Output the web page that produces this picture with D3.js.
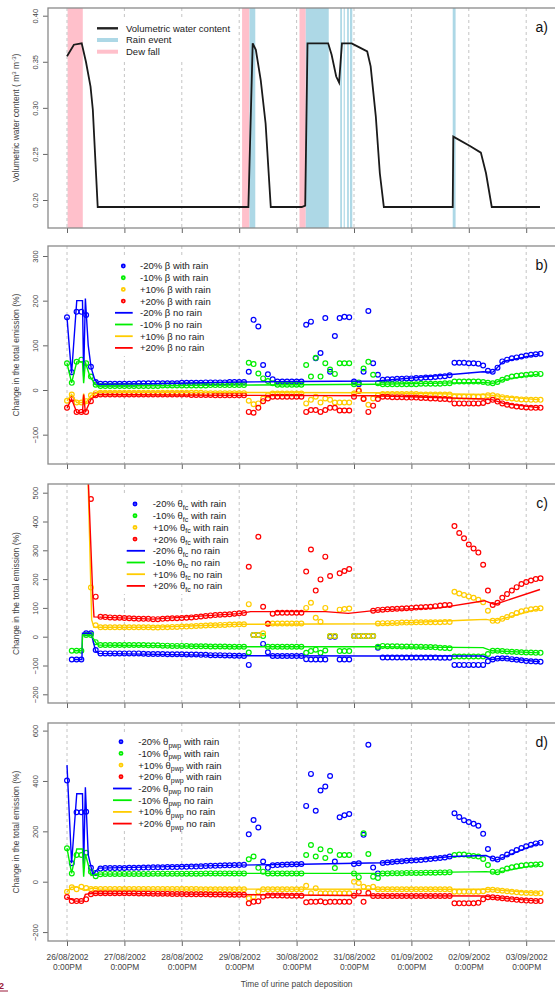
<!DOCTYPE html>
<html>
<head>
<meta charset="utf-8">
<script src="https://cdn.jsdelivr.net/npm/d3@7"></script>
<style>
body{margin:0;background:#fff}
svg{display:block;font-family:"Liberation Sans",Arial,sans-serif}
</style>
</head>
<body>
<svg id="chart" width="555" height="992"></svg>
<script>
// time axis = days since 26/08/2002 12:00
var dayLabels = ["26/08/2002","27/08/2002","28/08/2002","29/08/2002","30/08/2002","31/08/2002","01/09/2002","02/09/2002","03/09/2002"];

//a) soil water
var vwcTime = [0,0.12,0.256,0.33,0.41,0.45,0.535,3.16,3.235,3.29,3.375,3.46,3.55,4.09,4.15,4.19,4.55,4.61,4.69,4.74,4.79,4.96,5.06,5.23,5.29,5.38,5.45,5.52,6.72,6.73,7.02,7.21,7.30,7.40,8.24];
var vwcValue = [0.356,0.3685,0.370,0.350,0.323,0.298,0.1924,0.1924,0.370,0.363,0.330,0.283,0.1924,0.1924,0.194,0.370,0.370,0.3576,0.334,0.3275,0.370,0.370,0.3667,0.3612,0.345,0.2906,0.229,0.1924,0.1924,0.2688,0.2587,0.2514,0.229,0.1924,0.1924];
var dewFall = [[0.01,0.275],[3.05,3.18],[4.05,4.16]];
var rainEvent = [[3.18,3.28],[4.16,4.56],[4.76,4.79],[4.82,4.84],[4.88,4.91],[4.93,4.97],[6.72,6.77]];

// with-rain runs are read every 2 h (index i -> day i/12)
var step = 1/12;

//b) beta
var bBlueRain = [163,40,175,175,168,52,18,14,14,14,14,14,
14,14,14,15,15,15,15,15,15,15,15,15,
16,16,16,16,16,17,17,17,17,17,18,18,
18,18,41,157,142,56,35,24,19,19,19,19,
19,19,146,153,71,83,161,41,121,161,164,163,
19,13,41,177,60,34,23,24,24,25,25,26,
26,27,27,28,28,29,30,31,33,61,61,61,
60,60,59,55,43,41,50,64,68,71,73,75,
77,79,80,81];
var bGreenRain = [60,16,63,68,60,30,12,9,9,9,9,9,
9,9,9,9,9,9,9,9,10,10,10,10,
10,10,10,10,10,10,11,11,11,11,11,11,
11,11,61,58,37,26,20,15,12,12,12,12,
12,12,56,30,72,30,60,46,36,60,60,60,
13,17,48,63,34,15,13,13,13,13,13,13,
13,13,14,14,14,14,14,15,15,19,19,19,
19,19,19,18,16,15,18,23,27,30,32,33,
34,35,36,36];
var bYellowRain = [-24,-10,-28,-28,-25,-12,-7,-6,-6,-6,-6,-6,
-6,-6,-6,-6,-6,-6,-6,-6,-6,-6,-6,-6,
-6,-6,-6,-6,-6,-7,-7,-7,-7,-7,-7,-7,
-7,-7,-24,-32,-30,-19,-12,-8,-8,-8,-8,-8,
-8,-8,-30,-22,-15,-28,-19,-22,-28,-28,-28,-28,
-8,0,-19,-33,-19,-12,-9,-9,-9,-9,-9,-9,
-9,-9,-10,-10,-10,-10,-10,-10,-10,-15,-15,-15,
-15,-15,-15,-14,-12,-12,-14,-16,-18,-19,-20,-21,
-21,-22,-22,-22];
var bRedRain = [-40,-20,-49,-49,-49,-25,-12,-10,-10,-10,-10,-10,
-10,-10,-10,-10,-10,-10,-10,-10,-10,-10,-10,-10,
-10,-10,-11,-11,-11,-11,-11,-12,-12,-12,-12,-12,
-12,-12,-49,-51,-40,-25,-19,-15,-15,-15,-15,-15,
-15,-15,-49,-45,-45,-49,-45,-40,-40,-46,-46,-46,
-15,-2,-20,-49,-35,-20,-15,-15,-16,-16,-16,-17,
-17,-17,-18,-18,-19,-19,-20,-20,-21,-30,-30,-30,
-30,-30,-30,-29,-25,-22,-26,-30,-33,-35,-37,-38,
-39,-40,-40,-40];
var bBlueLine = [[0,163],[0.04,97],[0.08,37],[0.17,200],[0.27,200],[0.29,30],[0.32,205],[0.37,100],[0.42,50],[0.48,25],[0.54,13],[1.5,14],[3,18],[4,19],[5.4,20],[7.25,41],[7.42,40],[7.6,64],[8.24,81]];
var bGreenLine = [[0,60],[0.08,16],[0.17,63],[0.27,63],[0.29,15],[0.32,62],[0.4,30],[0.5,12],[0.55,9],[3,11],[5.4,13],[7.25,17],[7.42,15],[7.6,23],[8.24,36]];
var bYellowLine = [[0,-24],[0.08,-10],[0.17,-28],[0.27,-28],[0.29,-8],[0.32,-30],[0.42,-12],[0.55,-5],[5.4,-6],[7.25,-10],[7.42,-12],[7.6,-15],[8.24,-22]];
var bRedLine = [[0,-40],[0.08,-20],[0.17,-50],[0.27,-50],[0.29,-10],[0.32,-50],[0.42,-20],[0.55,-10],[3,-12],[5.4,-13],[7.25,-20],[7.42,-22],[7.6,-30],[8.24,-40]];

//c) theta fc
var cBlueRain = [null,-79,-79,-79,12,12,-46,-58,-58,-58,-58,-58,
-58,-58,-58,-58,-59,-60,-60,-60,-60,-61,-61,-61,
-61,-62,-62,-62,-63,-63,-64,-64,-64,-65,-65,-66,
-66,-67,-98,6,6,-25,-54,-67,-67,-67,-67,-67,
-67,-67,-78,-79,-79,-79,-79,0,0,-79,-79,-79,
2,2,2,2,2,-38,-72,-72,-72,-72,-72,-72,
-72,-72,-72,-72,-72,-72,-73,-73,-73,-98,-98,-98,
-98,-98,-98,-98,-85,-79,-76,-75,-76,-78,-80,-82,
-84,-85,-86,-87];
var cGreenRain = [null,-49,-49,-49,6,6,-19,-29,-29,-29,-29,-29,
-29,-29,-29,-29,-29,-30,-30,-30,-31,-31,-32,-32,
-32,-32,-33,-33,-33,-33,-34,-34,-34,-34,-35,-35,
-35,-35,-55,6,6,2,-35,-35,-35,-35,-35,-35,
-35,-35,-56,-50,-45,-56,-48,2,2,-50,-50,-50,
2,2,2,2,2,-35,-32,-33,-33,-33,-34,-34,
-34,-35,-35,-36,-36,-37,-38,-39,-40,-69,-69,-69,
-69,-69,-69,-69,-60,-49,-49,-50,-51,-52,-53,-54,
-55,-55,-56,-56];
var cYellowRain = [null,null,null,null,null,171,40,33,33,33,33,33,
33,33,33,33,33,33,32,32,33,33,34,34,
35,35,36,37,38,39,40,40,41,41,42,42,
43,43,113,6,6,12,46,46,46,46,46,46,
46,46,100,118,66,52,100,2,2,94,96,98,
2,2,2,2,2,46,47,47,48,48,49,49,
49,50,50,50,50,50,50,51,51,156,150,145,
140,135,128,120,90,55,55,62,68,75,82,88,
92,95,97,99];
var cRedRain = [null,null,null,null,null,478,139,69,68,67,66,66,
65,64,63,62,62,62,61,61,62,63,64,64,
65,66,67,68,70,72,74,75,76,77,78,80,
81,82,243,null,347,104,45,80,83,83,83,83,
83,83,226,303,160,199,278,211,null,220,228,235,
null,null,null,null,90,93,94,95,96,97,98,99,
100,101,102,103,104,106,108,110,110,384,360,342,
320,306,292,250,160,110,118,135,148,160,172,183,
190,195,200,203];
var cBlueLine = [[0.12,-79],[0.26,-79],[0.27,12],[0.42,12],[0.5,-50],[0.55,-58],[3,-66],[5.4,-67],[7.25,-67],[7.4,-79],[7.6,-75],[8.24,-87]];
var cGreenLine = [[0.12,-49],[0.26,-49],[0.27,6],[0.42,6],[0.5,-20],[0.55,-29],[3,-35],[5.4,-35],[7.25,-38],[7.4,-49],[8.24,-56]];
var cYellowLine = [[0.36,600],[0.43,58],[0.47,33],[1.5,33],[3,43],[5.5,45],[7,58],[7.3,60],[7.45,55],[8.24,98]];
var cRedLine = [[0.36,600],[0.45,139],[0.47,69],[1.5,61],[3,80],[3.2,87],[4.5,87],[4.9,81],[5.5,94],[6.5,100],[7.27,125],[7.45,112],[8.24,164]];

//d) theta pwp
var dBlueRain = [402,73,276,276,278,55,35,52,54,54,54,54,
54,55,55,55,56,56,57,57,57,58,58,58,
59,59,60,60,61,62,63,63,64,65,65,66,
66,67,188,245,215,80,55,65,66,67,68,69,
69,70,301,428,282,362,378,420,80,256,264,269,
70,73,186,544,56,33,74,76,78,80,81,83,
84,85,86,88,90,92,94,96,100,272,257,244,
237,230,222,190,130,92,88,98,108,117,126,134,
141,147,152,155];
var dGreenRain = [133,33,106,106,115,40,22,30,31,31,31,31,
31,31,31,31,31,31,32,32,32,32,32,32,
32,32,32,32,32,33,33,33,33,33,33,33,
33,33,89,100,55,40,33,33,33,33,33,33,
33,33,106,146,100,129,94,123,54,106,106,106,
33,18,192,110,20,15,33,33,34,34,34,35,
35,35,35,36,36,36,37,37,38,106,108,108,
104,102,100,90,66,40,38,45,52,57,61,64,
66,67,68,69];
var dYellowRain = [-40,-22,-30,-20,-25,-29,-29,-29,-29,-29,-29,-29,
-29,-29,-29,-29,-29,-29,-29,-29,-29,-29,-29,-29,
-29,-29,-29,-29,-30,-30,-30,-30,-30,-30,-30,-30,
-30,-30,-66,-60,-40,-30,-30,-30,-30,-30,-30,-30,
-30,-30,-16,-46,-26,-46,-46,-46,-46,-46,-46,-46,
0,-5,-20,-25,-20,-30,-30,-30,-30,-30,-30,-30,
-30,-30,-30,-30,-30,-30,-30,-30,-30,-40,-40,-40,
-40,-40,-40,-38,-32,-32,-34,-36,-38,-40,-42,-44,
-45,-45,-46,-46];
var dRedRain = [-61,-77,-77,-77,-70,-50,-46,-46,-46,-46,-46,-46,
-46,-46,-46,-47,-47,-47,-48,-48,-48,-48,-49,-49,
-49,-50,-50,-50,-50,-50,-51,-51,-51,-51,-52,-52,
-52,-52,-86,-80,-78,-60,-55,-55,-55,-55,-56,-56,
-56,-56,-82,-80,-80,-78,-82,-80,-80,-80,-80,-80,
-56,-40,-80,-45,-57,-57,-57,-57,-57,-57,-57,-57,
-57,-57,-57,-57,-57,-57,-57,-57,-57,-86,-86,-86,
-86,-86,-84,-70,-62,-62,-64,-66,-68,-70,-72,-74,
-75,-76,-77,-77];
var dBlueLine = [[0,463],[0.08,73],[0.17,349],[0.27,349],[0.29,55],[0.32,375],[0.37,106],[0.45,28],[0.55,54],[3,66],[4.1,69],[5.5,75],[6.7,100],[7.3,104],[7.48,86],[8.24,155]];
var dGreenLine = [[0,133],[0.08,33],[0.17,130],[0.27,130],[0.29,20],[0.32,110],[0.42,25],[0.55,30],[3,33],[5.5,33],[6.7,38],[7.3,40],[7.48,37],[8.24,69]];
var dYellowLine = [[0,-40],[0.08,-22],[0.17,-20],[0.3,-35],[0.45,-25],[0.55,-29],[5.5,-30],[7.3,-30],[7.45,-32],[8.24,-46]];
var dRedLine = [[0,-61],[0.14,-77],[0.28,-77],[0.32,-50],[0.45,-46],[5.5,-56],[7.3,-57],[7.4,-62],[8.24,-77]];

var colBlue = "#0000ff", colGreen = "#00ee00", colYellow = "#ffcc00", colRed = "#ff0000";
var font = '"Liberation Sans",Arial,sans-serif';

var svg = d3.select("#chart");
var plotLeft = 48, plotRight = 559;
var x = d3.scaleLinear().domain([0, 8]).range([67, 526.2]);

function frame(top, bottom, y, tickVals, fmt, title, label)
{
    var clipId = "clip" + top;
    svg.append("clipPath").attr("id", clipId)
        .append("rect").attr("x", plotLeft).attr("y", top)
        .attr("width", plotRight - plotLeft).attr("height", bottom - top);
    var g = svg.append("g");
    var data = svg.append("g").attr("clip-path", "url(#" + clipId + ")");

    //grid
    g.selectAll("line.grid").data(d3.range(0, 9)).enter().append("line")
        .attr("x1", d => x(d)).attr("x2", d => x(d))
        .attr("y1", top).attr("y2", bottom)
        .attr("stroke", "#bdbdbd").attr("stroke-width", 0.9)
        .attr("stroke-dasharray", "3,3");

    //y axis
    var ay = svg.append("g").attr("transform", "translate(" + plotLeft + ",0)")
        .call(d3.axisLeft(y).tickValues(tickVals).tickSize(5).tickFormat(fmt));
    ay.select(".domain").remove();
    ay.selectAll("line").attr("stroke", "#666");
    ay.selectAll("text")
        .attr("transform", "rotate(-90)").attr("x", 0).attr("y", -10).attr("dy", 0)
        .attr("text-anchor", "middle").attr("fill", "#444")
        .style("font-size", "7.5px").style("font-family", font);

    //x ticks
    var ax = svg.append("g").attr("transform", "translate(0," + bottom + ")")
        .call(d3.axisBottom(x).tickValues(d3.range(0, 9)).tickSize(5).tickFormat(""));
    ax.select(".domain").remove();
    ax.selectAll("line").attr("stroke", "#666");

    //title
    var t = svg.append("text")
        .attr("transform", "translate(19," + ((top + bottom) / 2) + ") rotate(-90)")
        .attr("text-anchor", "middle").attr("fill", "#444")
        .style("font-size", "8.5px");
    title(t);

    svg.append("text").attr("x", 548).attr("y", top + 24)
        .attr("text-anchor", "end").attr("fill", "#111")
        .style("font-size", "14px").text(label);

    return {g: g, data: data, top: top, bottom: bottom, ax: ax};
}

function box(p)
{
    svg.append("rect").attr("x", plotLeft).attr("y", p.top)
        .attr("width", plotRight - plotLeft).attr("height", p.bottom - p.top)
        .attr("fill", "none").attr("stroke", "#8a8a8a").attr("stroke-width", 1.3);
}

function rainPoints(p, y, values, color)
{
    var pts = values.map((v, i) => [i * step, v]).filter(d => d[1] !== null);
    p.data.append("g").selectAll("circle").data(pts).enter().append("circle")
        .attr("cx", d => x(d[0])).attr("cy", d => y(d[1])).attr("r", 2.4)
        .attr("fill", "none").attr("stroke", color).attr("stroke-width", 1.2);
}

function noRainLine(p, y, pts, color)
{
    var line = d3.line().x(d => x(d[0])).y(d => y(d[1]));
    p.data.append("path").datum(pts).attr("d", line)
        .attr("fill", "none").attr("stroke", color).attr("stroke-width", 1.4);
}

function legend(items, mx, lx0, lx1, tx, y0, boxRect)
{
    var lg = svg.append("g");
    lg.append("rect").attr("x", boxRect[0]).attr("y", boxRect[1])
        .attr("width", boxRect[2]).attr("height", boxRect[3]).attr("fill", "#fff");
    items.forEach((it, k) =>
    {
        var yy = y0 + k * 11.7;
        if (it.type == "point")
        {
            lg.append("circle").attr("cx", mx).attr("cy", yy).attr("r", 1.5)
                .attr("fill", "none").attr("stroke", it.color).attr("stroke-width", 1.9);
        }
        else
        {
            lg.append("line").attr("x1", lx0).attr("x2", lx1).attr("y1", yy).attr("y2", yy)
                .attr("stroke", it.color).attr("stroke-width", it.width || 1.8);
        }
        var t = lg.append("text").attr("x", tx).attr("y", yy + 3.4)
            .attr("fill", "#222").style("font-size", "9.5px");
        t.append("tspan").text(it.pre);
        if (it.sub)
        {
            t.append("tspan").attr("dy", 2.5).style("font-size", "7px").text(it.sub);
            t.append("tspan").attr("dy", -2.5).text(it.post);
        }
    });
}

function changeItems(sym, sub)
{
    var pcts = ["-20%", "-10%", "+10%", "+20%"];
    var cols = [colBlue, colGreen, colYellow, colRed];
    var out = [];
    ["with rain", "no rain"].forEach((kind, j) =>
    {
        pcts.forEach((pc, i) =>
        {
            out.push({type: j == 0 ? "point" : "line", color: cols[i],
                pre: sub ? pc + " " + sym : pc + " " + sym + " " + kind,
                sub: sub, post: " " + kind});
        });
    });
    return out;
}

function emissionTitle(t) { t.text("Change in the total emission (%)"); }

//---------- a)
var yA = d3.scaleLinear().domain([0.2, 0.4]).range([200, 15.7]);
var pa = frame(8, 228, yA, [0.20, 0.25, 0.30, 0.35, 0.40], d3.format(".2f"), t =>
{
    t.append("tspan").text("Volumetric water content ( m");
    t.append("tspan").attr("dy", -3).style("font-size", "6px").text("3");
    t.append("tspan").attr("dy", 3).text(" m");
    t.append("tspan").attr("dy", -3).style("font-size", "6px").text("-3");
    t.append("tspan").attr("dy", 3).text(")");
}, "a)");
pa.g.lower();
var shade = svg.insert("g", ":first-child");
shade.selectAll("rect.dew").data(dewFall).enter().append("rect")
    .attr("x", d => x(d[0])).attr("width", d => x(d[1]) - x(d[0]))
    .attr("y", 8).attr("height", 220).attr("fill", "#ffc0cb");
shade.selectAll("rect.rain").data(rainEvent).enter().append("rect")
    .attr("x", d => x(d[0])).attr("width", d => x(d[1]) - x(d[0]))
    .attr("y", 8).attr("height", 220).attr("fill", "#add8e6");
var vwcLine = d3.line().x((d, i) => x(vwcTime[i])).y(d => yA(d));
pa.data.append("path").datum(vwcValue).attr("d", vwcLine)
    .attr("fill", "none").attr("stroke", "#1a1a1a").attr("stroke-width", 1.8);
legend([
    {type: "line", color: "#222", width: 2.4, pre: "Volumetric water content"},
    {type: "line", color: "#add8e6", width: 4, pre: "Rain event"},
    {type: "line", color: "#ffc0cb", width: 4, pre: "Dew fall"}
], 0, 97, 118, 126, 28.3, [92, 17, 144, 45]);
box(pa);

//---------- b)
var yB = d3.scaleLinear().domain([0, 300]).range([390, 256]);
var pb = frame(246, 464, yB, [-100, 0, 100, 200, 300], d3.format("d"), emissionTitle, "b)");
[[bBlueRain, colBlue], [bGreenRain, colGreen], [bYellowRain, colYellow], [bRedRain, colRed]]
    .forEach(s => rainPoints(pb, yB, s[0], s[1]));
[[bBlueLine, colBlue], [bGreenLine, colGreen], [bYellowLine, colYellow], [bRedLine, colRed]]
    .forEach(s => noRainLine(pb, yB, s[0], s[1]));
legend(changeItems("\u03b2", null), 123.3, 115, 132.7, 140, 266, [108, 258, 108, 98]);
box(pb);

//---------- c)
var yC = d3.scaleLinear().domain([0, 500]).range([636.7, 492.7]);
var pc = frame(484, 703, yC, [-200, -100, 0, 100, 200, 300, 400, 500], d3.format("d"), emissionTitle, "c)");
[[cBlueRain, colBlue], [cGreenRain, colGreen], [cYellowRain, colYellow], [cRedRain, colRed]]
    .forEach(s => rainPoints(pc, yC, s[0], s[1]));
[[cBlueLine, colBlue], [cGreenLine, colGreen], [cYellowLine, colYellow], [cRedLine, colRed]]
    .forEach(s => noRainLine(pc, yC, s[0], s[1]));
legend(changeItems("\u03b8", "fc"), 135, 126.7, 145, 152.7, 504, [120, 496, 114, 98]);
box(pc);

//---------- d)
var yD = d3.scaleLinear().domain([0, 600]).range([881.7, 730.6]);
var pd = frame(723, 941, yD, [-200, 0, 200, 400, 600], d3.format("d"), emissionTitle, "d)");
[[dBlueRain, colBlue], [dGreenRain, colGreen], [dYellowRain, colYellow], [dRedRain, colRed]]
    .forEach(s => rainPoints(pd, yD, s[0], s[1]));
[[dBlueLine, colBlue], [dGreenLine, colGreen], [dYellowLine, colYellow], [dRedLine, colRed]]
    .forEach(s => noRainLine(pd, yD, s[0], s[1]));
legend(changeItems("\u03b8", "pwp"), 121, 113, 131.7, 138.3, 741.7, [106, 733, 120, 98]);
box(pd);

//date labels under d)
pd.ax.selectAll(".tick").each(function(d)
{
    var t = d3.select(this).append("text").attr("fill", "#444")
        .attr("text-anchor", "middle").style("font-size", "8.4px").style("font-family", font);
    t.append("tspan").attr("x", 0).attr("y", 19).text(dayLabels[d]);
    t.append("tspan").attr("x", 0).attr("y", 28.5).text("0:00PM");
});
svg.append("text").attr("x", (x(4))).attr("y", 987).attr("text-anchor", "middle")
    .attr("fill", "#444").style("font-size", "8.4px").text("Time of urine patch deposition");

// cut-off mark at the lower left corner
svg.append("text").attr("x", -1).attr("y", 989).attr("fill", "#9b1b3a")
    .style("font-size", "9px").style("font-weight", "bold").text("2");
svg.append("line").attr("x1", 0).attr("x2", 8).attr("y1", 991).attr("y2", 991)
    .attr("stroke", "#9b1b3a").attr("stroke-width", 1);
</script>
</body>
</html>
